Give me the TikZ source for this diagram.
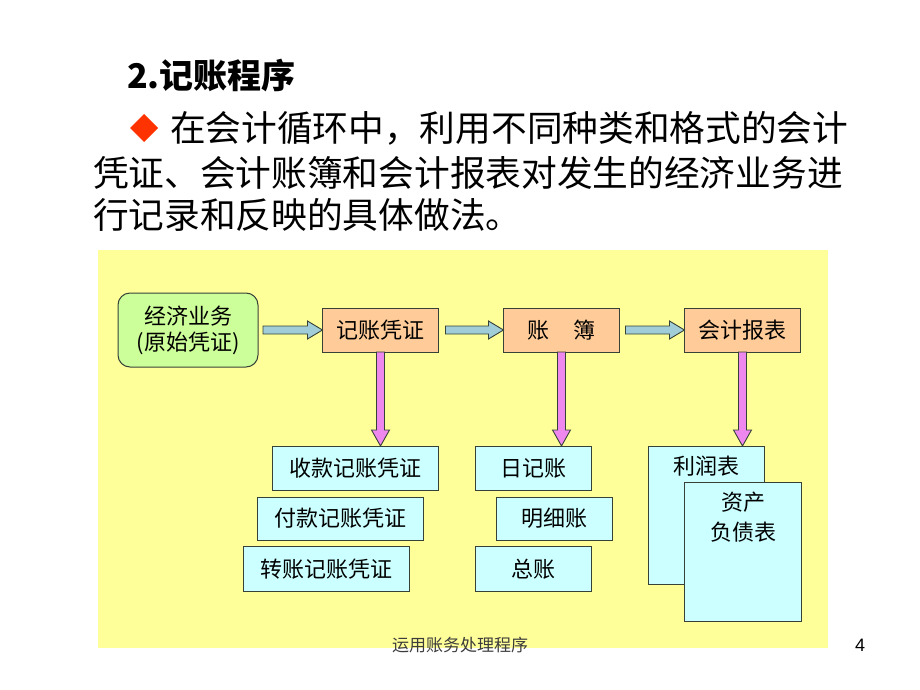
\documentclass[tikz,border=0pt]{standalone}
\usepackage{fontspec}
\setmainfont{Noto Sans CJK SC}
\newfontfamily\arialf{Liberation Sans}
\usetikzlibrary{shapes.geometric,calc,positioning}
\definecolor{bgyellow}{HTML}{FFFF99}
\definecolor{boxgreen}{HTML}{CCFF99}
\definecolor{boxorange}{HTML}{FFCC99}
\definecolor{boxcyan}{HTML}{CCFFFF}
\definecolor{arrblue}{RGB}{160,205,215}
\definecolor{arrpink}{RGB}{238,135,238}
\definecolor{edgedark}{RGB}{55,65,55}
\definecolor{bulletred}{HTML}{FF3300}
\definecolor{footgray}{RGB}{60,60,60}
\newcommand\hblockarrow[2]{%
  \path[draw=edgedark,fill=arrblue,line width=0.9pt] let \p1=(#1), \p2=(#2) in
    (\x1,{\y1+4pt}) -- ({\x2-15pt},{\y1+4pt}) -- ({\x2-15pt},{\y1+9pt}) -- (\x2,\y1)
    -- ({\x2-15pt},{\y1-9pt}) -- ({\x2-15pt},{\y1-4pt}) -- (\x1,{\y1-4pt}) -- cycle;}
\newcommand\vblockarrow[2]{%
  \path[draw=edgedark,fill=arrpink,line width=0.9pt] let \p1=(#1), \p2=(#2) in
    ({\x1-4pt},\y1) -- ({\x1-4pt},{\y2+16pt}) -- ({\x1-9pt},{\y2+16pt}) -- (\x1,\y2)
    -- ({\x1+9pt},{\y2+16pt}) -- ({\x1+4pt},{\y2+16pt}) -- ({\x1+4pt},\y1) -- cycle;}
\begin{document}
\begin{tikzpicture}[x=1pt,y=-1pt,
  every node/.style={inner sep=0pt, outer sep=0pt},
  bodytext/.style={font=\fontsize{35.7}{40}\selectfont, anchor=west},
  boxbase/.style={draw=edgedark, line width=1pt, font=\fontsize{22}{30}\selectfont, align=center},
  greenbox/.style={boxbase, fill=boxgreen, rounded corners=12pt, minimum width=140pt, minimum height=74pt, font=\fontsize{22}{26}\selectfont},
  orangebox/.style={boxbase, fill=boxorange, minimum width=116pt, minimum height=44pt},
  cyanbox/.style={boxbase, fill=boxcyan},
  lbl/.style={font=\fontsize{22}{30}\selectfont, align=center}
]
\useasboundingbox (0,0) rectangle (920,690);
\fill[white] (0,0) rectangle (920,690);
% title and paragraph
\node[anchor=west, font=\fontsize{34}{38}\selectfont\bfseries] (title) at (127,75) {2.记账程序};
\node[diamond, fill=bulletred, minimum width=28pt, minimum height=28pt] (bullet) at (144,128) {};
\node[bodytext] (l1) at (170,128) {在会计循环中，利用不同种类和格式的会计};
\node[bodytext] (l2) at (93,173) {凭证、会计账簿和会计报表对发生的经济业务进};
\node[bodytext] (l3) at (93,215) {行记录和反映的具体做法。};
% yellow panel
\fill[bgyellow] (98,250) rectangle (828,648);
% top row
\node[greenbox] (ev) at (188,330) {经济业务\\(原始凭证)};
\node[orangebox] (jz) at (380.5,330) {记账凭证};
\node[orangebox] (zb) at (561.5,330) {账\hspace{24pt}簿};
\node[orangebox] (bb) at (742.5,330) {会计报表};
% lower boxes
\node[cyanbox, minimum width=166pt, minimum height=44pt] (sk) at (355,468) {收款记账凭证};
\node[cyanbox, minimum width=166pt, minimum height=43pt] (fk) at (340,518.5) {付款记账凭证};
\node[cyanbox, minimum width=166pt, minimum height=45pt] (zz) at (326,569) {转账记账凭证};
\node[cyanbox, minimum width=116pt, minimum height=44pt] (rj) at (533,468) {日记账};
\node[cyanbox, minimum width=116pt, minimum height=43pt] (mx) at (554.5,518.5) {明细账};
\node[cyanbox, minimum width=116pt, minimum height=45pt] (zh) at (533,569) {总账};
\node[cyanbox, minimum width=116pt, minimum height=138pt] (lr) at (706,515) {};
\node[lbl] (lrt) at (706,466) {利润表};
\node[cyanbox, minimum width=117pt, minimum height=139pt] (zc) at (742.5,551.5) {};
\node[lbl] (zct) at (743,517) {资产\\负债表};
% horizontal block arrows
\hblockarrow{[xshift=5pt]ev.east}{jz.west}
\hblockarrow{[xshift=7pt]jz.east}{zb.west}
\hblockarrow{[xshift=6pt]zb.east}{bb.west}
% vertical block arrows
\vblockarrow{jz.south}{jz.south |- sk.north}
\vblockarrow{zb.south}{zb.south |- rj.north}
\vblockarrow{bb.south}{bb.south |- lr.north}
% footer
\node[font=\fontsize{17}{20}\selectfont, text=footgray] (foot) at (460,645) {运用账务处理程序};
\node[font=\arialf\fontsize{18}{20}\selectfont] (pg) at (860,645) {4};
\end{tikzpicture}
\end{document}
